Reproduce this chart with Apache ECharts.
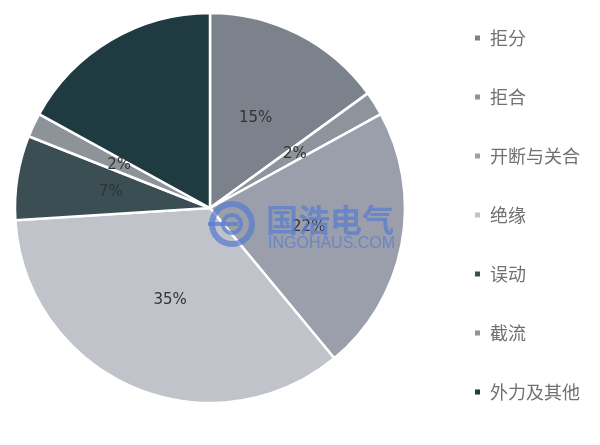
<!DOCTYPE html>
<html>
<head>
<meta charset="utf-8">
<script src="https://cdn.jsdelivr.net/npm/echarts@6/dist/echarts.min.js"></script>
<style>html,body{margin:0;padding:0;background:#fff}#c{width:600px;height:445px}</style>
</head>
<body>
<div id="c"></div>
<script>
var categories = ['拒分', '拒合', '开断与关合', '绝缘', '误动', '截流', '外力及其他'];
var values = [15, 2, 22, 35, 7, 2, 17];
var colors = ['#7c828c', '#8e949c', '#9b9fab', '#c1c3cb', '#3b4e53', '#8c9399', '#1f3a40'];

var chart = echarts.init(document.getElementById('c'));
chart.setOption({
  animation: false,
  color: colors,
  legend: {
    orient: 'vertical',
    left: 468,
    top: 24,
    itemGap: 41,
    itemWidth: 7,
    itemHeight: 7,
    icon: 'rect',
    textStyle: { fontSize: 18, color: '#707070', fontFamily: 'Noto Sans CJK SC', padding: [0, 0, 0, 4] },
    data: categories
  },
  graphic: [
    { type: 'circle', shape: { cx: 232, cy: 224, r: 20 }, style: { fill: 'none', stroke: 'rgba(90,125,205,0.75)', lineWidth: 6 }, z: 100 },
    { type: 'circle', shape: { cx: 232, cy: 224, r: 9 }, style: { fill: 'none', stroke: 'rgba(90,125,205,0.75)', lineWidth: 4 }, z: 100 },
    { type: 'rect', shape: { x: 208, y: 222, width: 30, height: 4 }, style: { fill: 'rgba(90,125,205,0.75)' }, z: 100 },
    { type: 'text', left: 266, top: 204, style: { text: '国浩电气', fontSize: 32, fontWeight: 'bold', fill: 'rgba(90,125,205,0.75)', fontFamily: 'Noto Sans CJK SC' }, z: 100 },
    { type: 'text', left: 268, top: 236, style: { text: 'INGOHAUS.COM', fontSize: 16, fill: 'rgba(90,125,205,0.75)', fontFamily: 'Liberation Sans Narrow, Liberation Sans' }, z: 100 }
  ],
  series: [{
    type: 'pie',
    center: [210, 208],
    radius: 195,
    startAngle: 90,
    clockwise: true,
    avoidLabelOverlap: false,
    itemStyle: { borderColor: '#fff', borderWidth: 2.5 },
    label: {
      show: true,
      position: 'inside',
      formatter: '{d}%',
      fontSize: 15,
      color: '#333',
      fontFamily: 'DejaVu Sans'
    },
    labelLine: { show: false },
    emphasis: { disabled: true },
    data: categories.map(function (n, i) {
      var d = { name: n, value: values[i] };
      if (i === categories.length - 1) d.label = { color: '#223d43' };
      return d;
    })
  }]
});
</script>
</body>
</html>
